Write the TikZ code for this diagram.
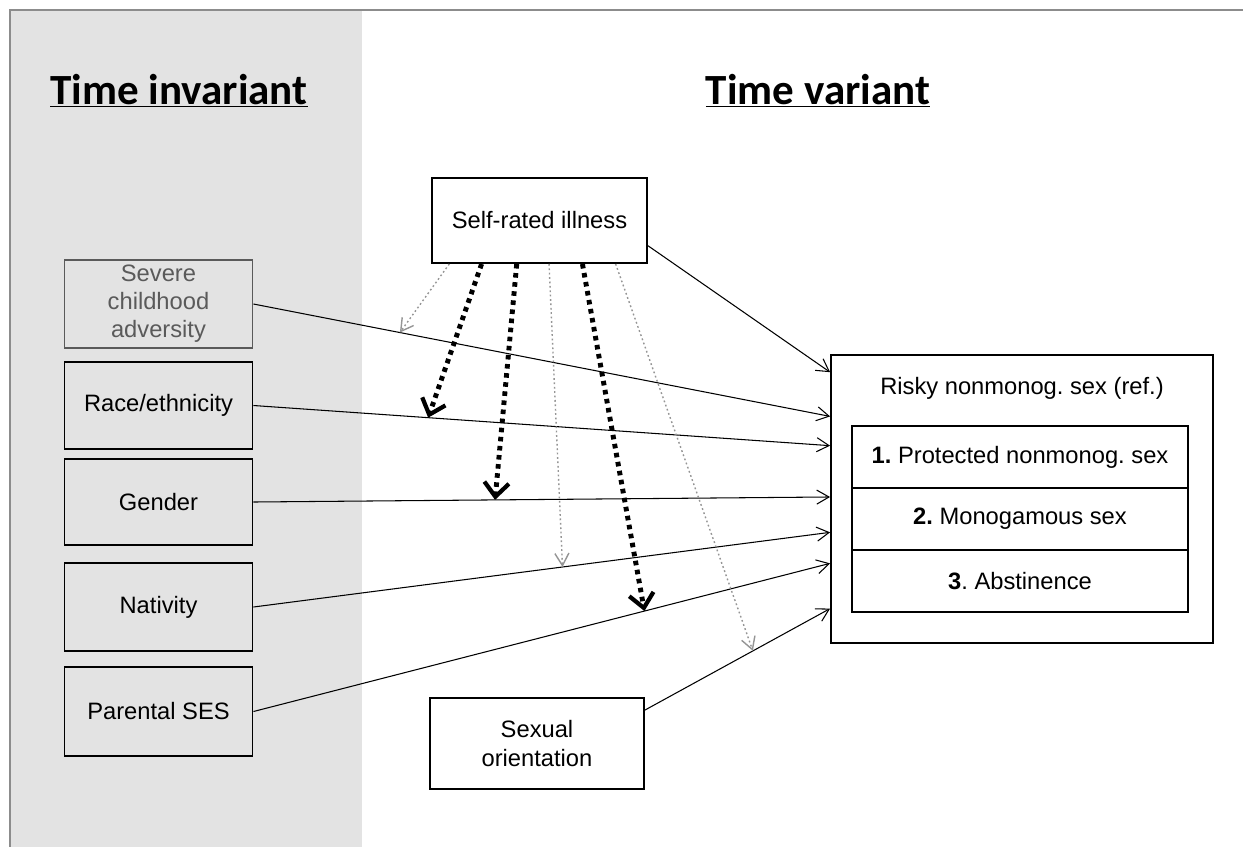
\documentclass[tikz,border=0pt]{standalone}
\usepackage{fontspec}
\setmainfont{Liberation Sans}
\newfontfamily\headfont{Carlito}
\usetikzlibrary{arrows.meta,calc,positioning}
\frenchspacing

\definecolor{panelgray}{HTML}{E3E3E3}
\definecolor{framegray}{HTML}{8C8C8C}
\definecolor{softgray}{HTML}{5A5A5A}
\definecolor{dotgray}{HTML}{959595}

\begin{document}
\begin{tikzpicture}[x=0.02cm,y=-0.02cm,
    box/.style={draw=black,line width=1.1pt,align=center,inner sep=0pt,
        font=\fontsize{13.5}{16}\selectfont,minimum width=3.76cm},
    softbox/.style={box,draw=softgray,text=softgray},
    choice/.style={box,minimum width=6.72cm,minimum height=1.24cm,outer sep=0pt},
    heading/.style={anchor=base,font=\headfont\bfseries\fontsize{24.5}{28}\selectfont},
    link/.style={line width=0.6pt,-{Straight Barb[length=7pt,width=8pt]}},
    weakmod/.style={dotgray,line width=0.8pt,dash pattern=on 1pt off 1.5pt,
        -{Straight Barb[length=7pt,width=8pt]}},
    strongmod/.style={black,line width=2.8pt,dash pattern=on 2.6pt off 2.6pt,
        -{Straight Barb[length=8pt,width=14pt,line width=2.4pt]}}
]
    \useasboundingbox (0,0) rectangle (1243,846);
    \clip (0,0) rectangle (1243,846);

    % background panels
    \fill[panelgray] (10,10) rectangle (362,860);
    \draw[framegray,line width=1.4pt] (10,10) rectangle (1270,880);

    \node[heading] (inv-head) at (179,104) {\underline{Time invariant}};
    \node[heading] (var-head) at (818,104) {\underline{Time variant}};

    % time invariant covariates
    \foreach \id/\yc/\hgt/\kind/\txt in {
        sca/304/1.76cm/softbox/{Severe\\childhood\\adversity},
        race/405.5/1.74cm/box/{Race/ethnicity},
        gender/502/1.72cm/box/{Gender},
        nativ/607/1.76cm/box/{Nativity},
        pses/711.5/1.78cm/box/{Parental SES}} {
        \node[\kind,minimum height=\hgt] (\id) at (158.5,\yc) {\txt};
    }

    % time variant covariates
    \node[box,fill=white,minimum width=4.3cm,minimum height=1.7cm]
        (self) at (539.5,220.5) {Self-rated illness};
    \node[box,minimum width=4.28cm,minimum height=1.82cm]
        (sexor) at (537,743.5) {Sexual\\orientation};

    % outcome
    \node[box,minimum width=7.64cm,minimum height=5.76cm] (outcome) at (1022,499) {};
    \node[font=\fontsize{13.5}{16}\selectfont] (ref) at (1022,388)
        {Risky nonmonog. sex (ref.)};
    \node[choice] (opt1) at (1020,457) {\textbf{1.} Protected nonmonog. sex};
    \node[choice,below=0pt of opt1] (opt2) {\textbf{2.} Monogamous sex};
    \node[choice,below=0pt of opt2] (opt3) {\textbf{3}. Abstinence};

    % main effects
    \draw[link] ($(self.north east)!0.79!(self.south east)$)
        -- ($(outcome.north west)!0.0625!(outcome.south west)$);
    \foreach \src/\f/\p/\m in {sca/0.215/0.254/m1,race/0.316/0.303/m2,
        gender/0.493/0.419/m3,nativ/0.615/0.536/m4,pses/0.722/0.678/m5} {
        \draw[link] (\src.east) -- coordinate[pos=\p] (\m)
            ($(outcome.north west)!\f!(outcome.south west)$);
    }
    \draw[link] ($(sexor.north east)!0.14!(sexor.south east)$)
        -- coordinate[pos=0.583] (m6)
        ($(outcome.north west)!0.878!(outcome.south west)$);

    % interactions with self-rated illness
    \foreach \f/\m/\kind in {0.084/m1/weakmod,0.233/m2/strongmod,
        0.395/m3/strongmod,0.544/m4/weakmod,0.698/m5/strongmod,0.851/m6/weakmod} {
        \draw[\kind] ($(self.south west)!\f!(self.south east)$) -- (\m);
    }
\end{tikzpicture}
\end{document}
